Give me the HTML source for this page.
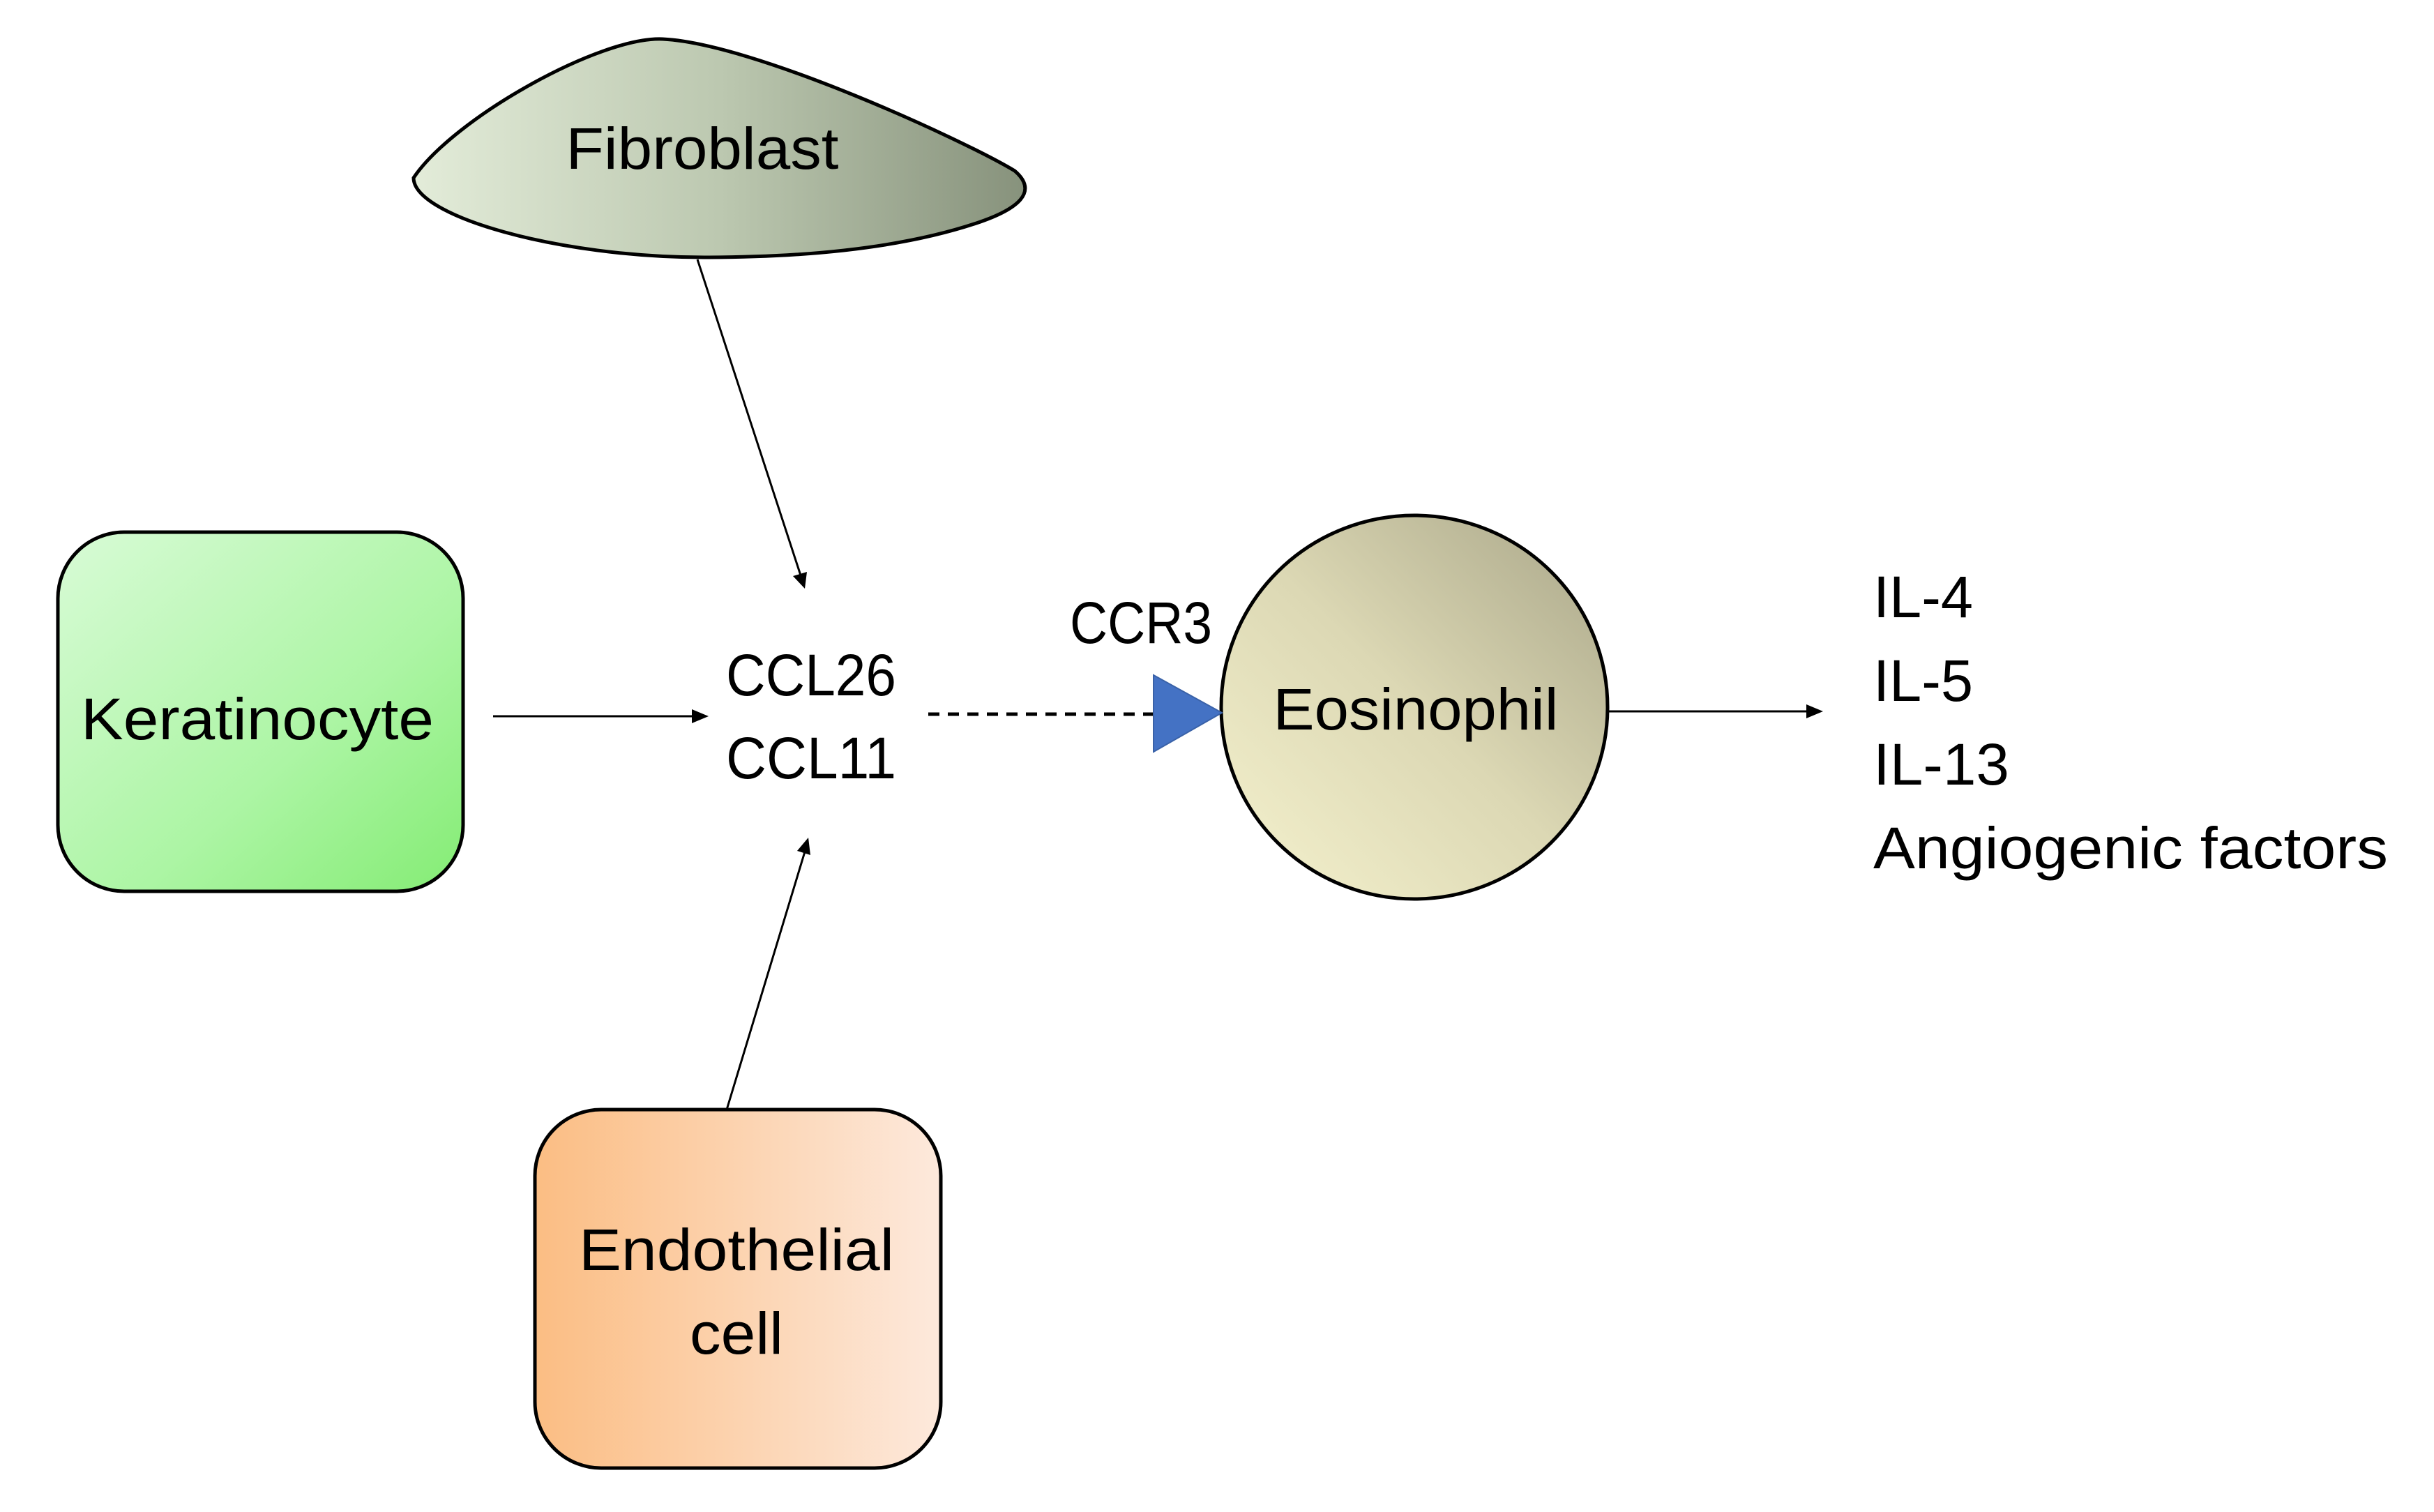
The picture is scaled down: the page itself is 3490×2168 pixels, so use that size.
<!DOCTYPE html>
<html><head><meta charset="utf-8"><style>
html,body{margin:0;padding:0;background:#fff;}
svg{display:block;}
text{font-family:"Liberation Sans",sans-serif;fill:#000;}
</style></head><body>
<svg width="3490" height="2168" viewBox="0 0 3490 2168" xmlns="http://www.w3.org/2000/svg">
<defs>
<linearGradient id="gf" x1="0" y1="0" x2="1" y2="0">
<stop offset="0" stop-color="#e3ecd9"/><stop offset="0.5" stop-color="#bcc8b0"/><stop offset="1" stop-color="#87927c"/>
</linearGradient>
<linearGradient id="gk" x1="0" y1="0" x2="1" y2="1">
<stop offset="0" stop-color="#d8fbd6"/><stop offset="0.6" stop-color="#acf5a4"/><stop offset="1" stop-color="#84ec74"/>
</linearGradient>
<linearGradient id="ge" x1="0" y1="0" x2="1" y2="0">
<stop offset="0" stop-color="#fbbd83"/><stop offset="1" stop-color="#fde9dc"/>
</linearGradient>
<linearGradient id="go" x1="0" y1="1" x2="1" y2="0">
<stop offset="0" stop-color="#f5f2ce"/><stop offset="0.5" stop-color="#dcd8b4"/><stop offset="1" stop-color="#a8a588"/>
</linearGradient>
</defs>

<!-- Fibroblast -->
<path d="M593,255 C650,170 860,52 950,56 C1080,62 1380,200 1455,245 C1490,275 1460,300 1400,320 C1280,360 1130,369 1010,369 C800,369 593,310 593,255 Z" fill="url(#gf)" stroke="#000" stroke-width="5"/>
<text x="1007" y="242" font-size="84" text-anchor="middle" textLength="391" lengthAdjust="spacingAndGlyphs">Fibroblast</text>

<!-- Keratinocyte -->
<rect x="83" y="763" width="581" height="515" rx="95" ry="95" fill="url(#gk)" stroke="#000" stroke-width="5"/>
<text x="369" y="1060" font-size="84" text-anchor="middle" textLength="506" lengthAdjust="spacingAndGlyphs">Keratinocyte</text>

<!-- Endothelial -->
<rect x="767" y="1591" width="582" height="514" rx="95" ry="95" fill="url(#ge)" stroke="#000" stroke-width="5"/>
<text x="1056" y="1821" font-size="84" text-anchor="middle" textLength="452" lengthAdjust="spacingAndGlyphs">Endothelial</text>
<text x="1056" y="1941" font-size="84" text-anchor="middle" textLength="134" lengthAdjust="spacingAndGlyphs">cell</text>

<!-- CCL labels -->
<text x="1163" y="997" font-size="84" text-anchor="middle" textLength="244" lengthAdjust="spacingAndGlyphs">CCL26</text>
<text x="1163" y="1116" font-size="84" text-anchor="middle" textLength="244" lengthAdjust="spacingAndGlyphs">CCL11</text>
<text x="1636" y="922" font-size="84" text-anchor="middle" textLength="204" lengthAdjust="spacingAndGlyphs">CCR3</text>

<!-- Eosinophil -->
<ellipse cx="2028" cy="1014" rx="277" ry="275" fill="url(#go)" stroke="#000" stroke-width="5"/>
<text x="2030" y="1046" font-size="84" text-anchor="middle" textLength="409" lengthAdjust="spacingAndGlyphs">Eosinophil</text>

<!-- arrows -->
<line x1="707" y1="1027" x2="1000" y2="1027" stroke="#000" stroke-width="3"/>
<polygon points="1016,1027 992,1017 992,1037" fill="#000"/>

<line x1="1000" y1="372" x2="1149" y2="828" stroke="#000" stroke-width="3"/>
<polygon points="1154,844 1137,826 1157,820" fill="#000"/>

<line x1="1042" y1="1591" x2="1155" y2="1218" stroke="#000" stroke-width="3"/>
<polygon points="1159,1201 1162,1226 1143,1220" fill="#000"/>

<line x1="2305" y1="1020" x2="2598" y2="1020" stroke="#000" stroke-width="3"/>
<polygon points="2614,1020 2590,1010 2590,1030" fill="#000"/>

<line x1="1331" y1="1024" x2="1656" y2="1024" stroke="#000" stroke-width="5" stroke-dasharray="16,12"/>
<polygon points="1654,968 1752,1022 1654,1078" fill="#4472c4" stroke="#3a62a8" stroke-width="2"/>

<!-- outputs -->
<text x="2686" y="885" font-size="84" textLength="143" lengthAdjust="spacingAndGlyphs">IL-4</text>
<text x="2686" y="1005" font-size="84" textLength="143" lengthAdjust="spacingAndGlyphs">IL-5</text>
<text x="2686" y="1125" font-size="84" textLength="195" lengthAdjust="spacingAndGlyphs">IL-13</text>
<text x="2686" y="1245" font-size="84" textLength="738" lengthAdjust="spacingAndGlyphs">Angiogenic factors</text>
</svg>
</body></html>
